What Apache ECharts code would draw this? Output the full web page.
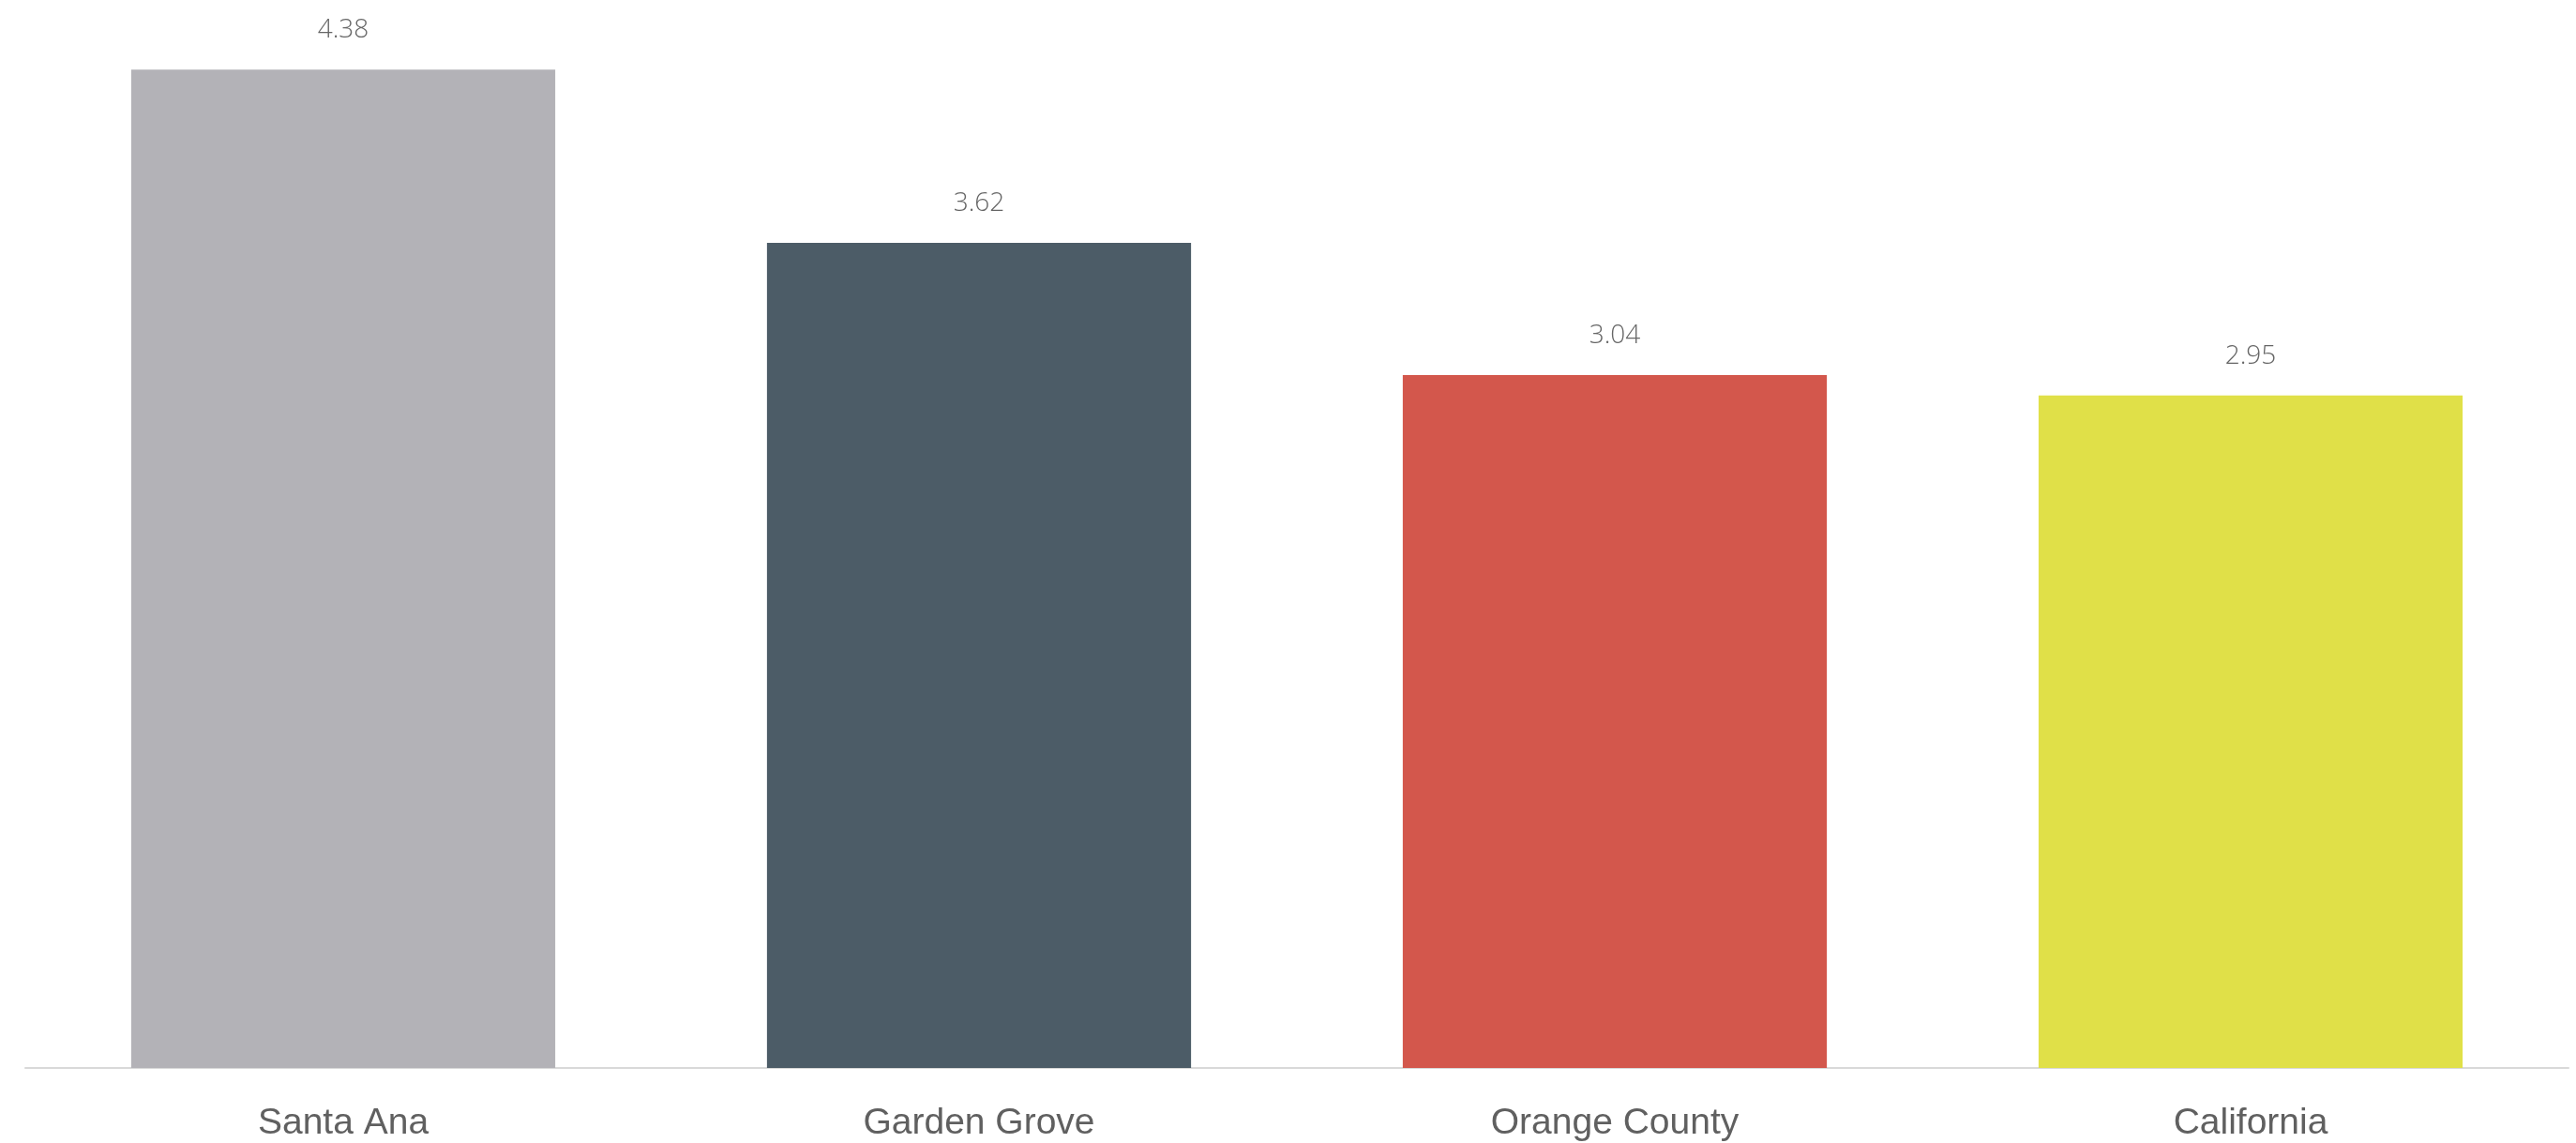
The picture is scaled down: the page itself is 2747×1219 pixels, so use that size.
<!DOCTYPE html>
<html>
<head>
<meta charset="utf-8">
<script src="https://cdn.jsdelivr.net/npm/echarts@6/dist/echarts.min.js"></script>
<style>html,body{margin:0;padding:0;background:#fff}#c{width:2747px;height:1219px}</style>
</head>
<body>
<div id="c"></div>
<script>
const categories = ["Santa Ana", "Garden Grove", "Orange County", "California"];
const values = [4.38, 3.62, 3.04, 2.95];
const colors = ["#B3B2B7", "#4C5C67", "#D3574C", "#E0E048"];

const chart = echarts.init(document.getElementById('c'));
chart.setOption({
  animation: false,
  backgroundColor: '#ffffff',
  grid: { left: 27, right: 8, top: 45, bottom: 80, containLabel: false },
  xAxis: {
    type: 'category',
    data: categories,
    axisLine: { lineStyle: { color: '#D9D9D9', width: 2 } },
    axisTick: { show: false },
    axisLabel: { color: '#606060', fontSize: 39, margin: 40, fontFamily: 'Liberation Sans, Arial, sans-serif' }
  },
  yAxis: {
    type: 'value', min: 0, max: 4.5,
    show: false,
    splitLine: { show: false }
  },
  series: [{
    type: 'bar',
    barCategoryGap: '33.3%',
    data: values.map((v, i) => ({ value: v, itemStyle: { color: colors[i] } })),
    label: {
      show: true, position: 'top', distance: 28,
      color: '#666666', fontSize: 28, fontFamily: 'Open Sans, sans-serif', fontWeight: 300,
      formatter: p => p.value.toFixed(2)
    }
  }]
});
</script>
</body>
</html>
